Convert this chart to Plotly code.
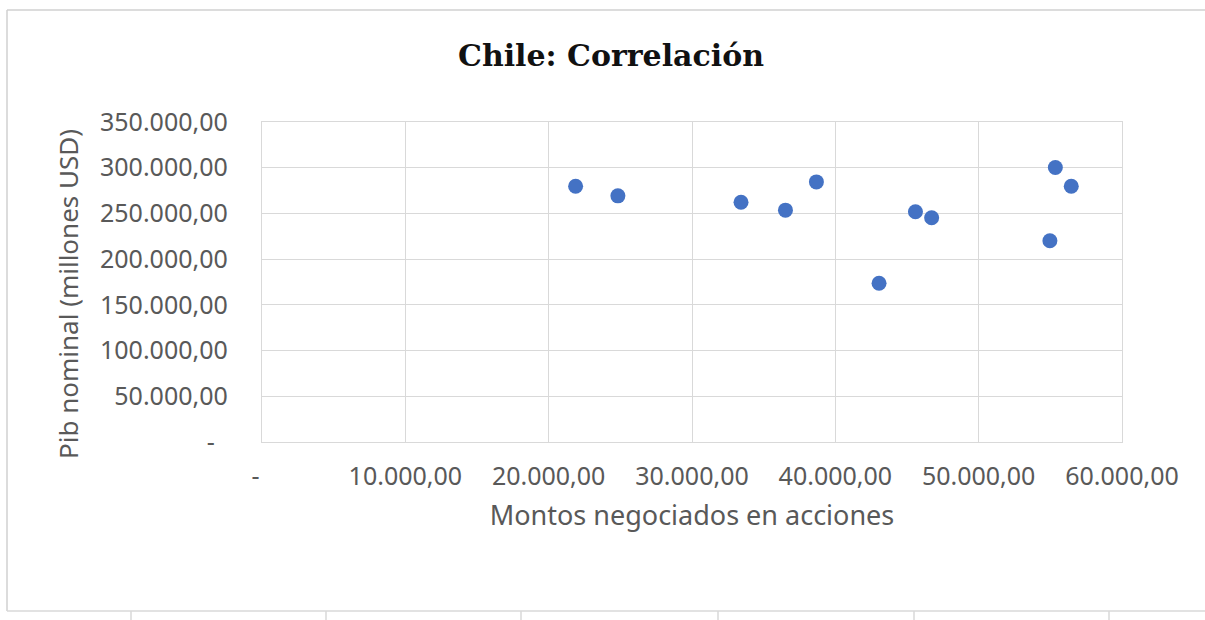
import plotly.graph_objects as go

# Montos negociados en acciones vs. PIB nominal (Chile)
montos = [21880, 24830, 33420, 36520, 38680, 43050, 45590, 46720, 54970, 55350, 56460]
pib = [279800, 269200, 262300, 253600, 284500, 173600, 251800, 245200, 220100, 300200, 279800]

x_ticks = [0, 10000, 20000, 30000, 40000, 50000, 60000]
x_labels = ["-\u00a0\u00a0", "10.000,00", "20.000,00", "30.000,00", "40.000,00", "50.000,00", "60.000,00"]
y_ticks = [0, 50000, 100000, 150000, 200000, 250000, 300000, 350000]
y_labels = ["-\u00a0\u00a0", "50.000,00", "100.000,00", "150.000,00", "200.000,00",
            "250.000,00", "300.000,00", "350.000,00"]

W, H = 1205, 620
L, R, T, B = 262, 83, 122, 178
PW, PH = W - L - R, H - T - B


def px_x(p):
    return (p - L) / PW


def px_y(p):
    return (H - B - p) / PH


GRID = "#d9d9d9"
TXT = "#595959"
FONT = "Noto Sans"

fig = go.Figure()
fig.add_trace(go.Scatter(
    x=montos, y=pib, mode="markers",
    marker=dict(color="#4472C4", size=15),
    hoverinfo="x+y", showlegend=False,
))

# chart-area frame and the sheet cell lines underneath
shapes = [
    dict(type="line", xref="paper", yref="paper", x0=px_x(7), x1=px_x(7), y0=px_y(10), y1=px_y(611),
         line=dict(color="#d0d0d0", width=1.5)),
    dict(type="line", xref="paper", yref="paper", x0=px_x(7), x1=px_x(1215), y0=px_y(10), y1=px_y(10),
         line=dict(color="#d0d0d0", width=1.5)),
    dict(type="line", xref="paper", yref="paper", x0=px_x(7), x1=px_x(1215), y0=px_y(611), y1=px_y(611),
         line=dict(color="#d9d9d9", width=1.5)),
]
for cx in [131, 326, 521, 718, 914, 1109]:
    shapes.append(dict(type="line", xref="paper", yref="paper", x0=px_x(cx), x1=px_x(cx),
                       y0=px_y(611), y1=px_y(625), line=dict(color="#d9d9d9", width=1.5)))

fig.update_layout(
    width=W, height=H,
    margin=dict(l=L, r=R, t=T, b=B, autoexpand=False),
    paper_bgcolor="white", plot_bgcolor="white",
    title=dict(text="<b>Chile: Correlación</b>", x=611 / W, xref="container", xanchor="center",
               y=1 - 55 / H, yref="container", yanchor="middle",
               font=dict(family="DejaVu Serif", size=30, color="#111111")),
    xaxis=dict(range=[0, 60000], tickvals=x_ticks, ticktext=x_labels,
               showgrid=True, gridcolor=GRID, gridwidth=1.4,
               showline=True, linecolor=GRID, linewidth=1.4, mirror=True,
               zeroline=False, ticks="outside", ticklen=12, tickcolor="rgba(0,0,0,0)",
               tickfont=dict(family=FONT, size=25, color=TXT),
               title=dict(text="Montos negociados en acciones", standoff=14,
                          font=dict(family=FONT, size=27, color=TXT))),
    yaxis=dict(range=[0, 350000], tickvals=y_ticks, ticktext=y_labels,
               showgrid=True, gridcolor=GRID, gridwidth=1.4,
               showline=True, linecolor=GRID, linewidth=1.4, mirror=True,
               zeroline=False, ticks="outside", ticklen=28, tickcolor="rgba(0,0,0,0)",
               tickfont=dict(family=FONT, size=25, color=TXT)),
    annotations=[dict(text="Pib nominal (millones USD)", textangle=-90,
                      xref="paper", yref="paper", x=px_x(68), y=px_y(294),
                      xanchor="center", yanchor="middle", showarrow=False,
                      font=dict(family=FONT, size=26, color=TXT))],
    shapes=shapes,
)

fig.write_html("out.html")
